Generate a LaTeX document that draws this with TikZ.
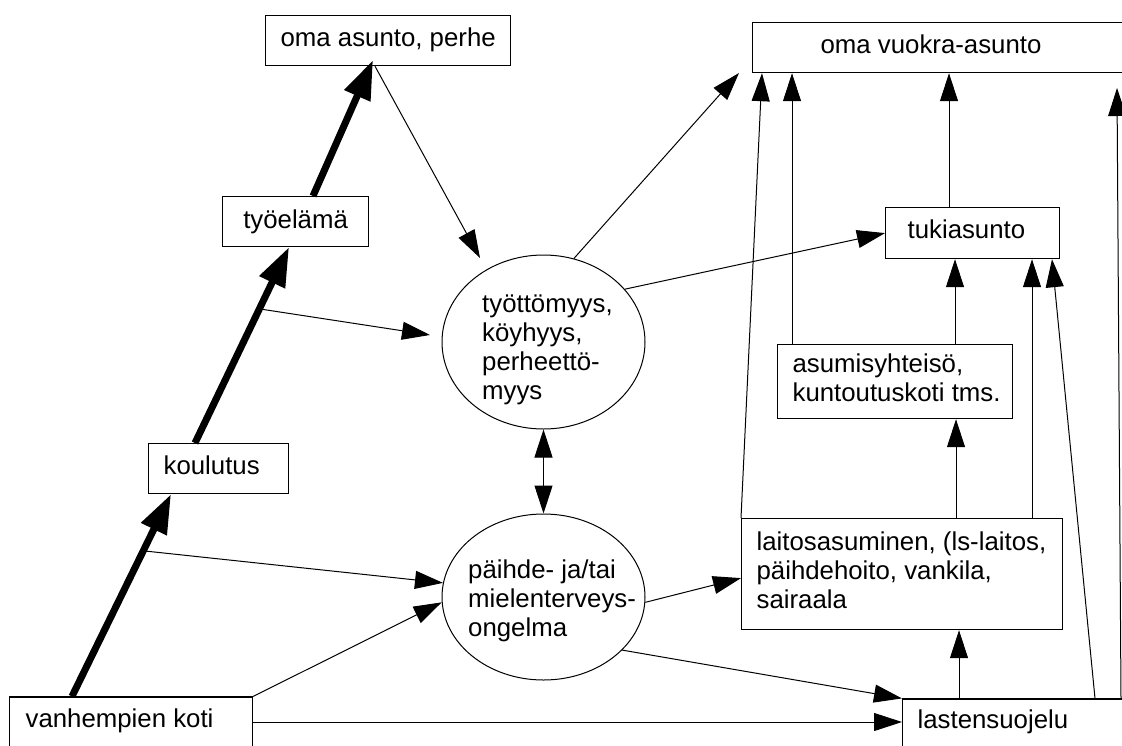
\documentclass[tikz,border=0pt]{standalone}
\usepackage{fontspec}
\setmainfont{Liberation Sans}
\usetikzlibrary{arrows.meta,calc,shapes.geometric}
\newcommand\lbox[2]{\makebox[#1pt][l]{\begin{tabular}{@{}l@{}}#2\end{tabular}}}
\tikzset{
  every node/.style={font=\fontsize{25.8}{29}\selectfont},
  box/.style={draw, line width=1.2pt, rectangle, inner ysep=0pt, anchor=north west},
  ell/.style={draw, line width=1pt, ellipse, inner sep=0pt},
  lbl/.style={inner sep=0pt, anchor=west},
  conn/.style={line width=1pt, -{Triangle[length=28pt,width=18pt]}},
  fat/.style={line width=7pt, -{Triangle[length=39pt,width=27pt]}},
  dbl/.style={line width=1pt, {Triangle[length=28pt,width=18pt]}-{Triangle[length=28pt,width=18pt]}},
}
\begin{document}
\begin{tikzpicture}[x=1pt,y=-1pt]
\useasboundingbox (0,0) rectangle (1122,745);
\clip (0,0) rectangle (1122,745);
\fill[white] (0,0) rectangle (1122,745);

% boxes
\node[box, minimum width=245pt, minimum height=50pt, inner xsep=15pt] (omaasunto) at (265,15) {\lbox{215}{oma asunto, perhe}};
\node[box, minimum width=420pt, minimum height=50pt, inner xsep=68pt] (omavuokra) at (752,22) {\lbox{284}{oma vuokra-asunto}};
\node[box, minimum width=146pt, minimum height=50pt] (tyoelama) at (222,196) {työelämä};
\node[box, minimum width=140pt, minimum height=50pt, inner xsep=15pt] (koulutus) at (148,443) {\lbox{110}{koulutus}};
\node[box, anchor=west, minimum width=243pt, minimum height=50pt, inner xsep=16pt] (vanhempien) at (9,722) {\lbox{211}{vanhempien koti}};
\node[box, minimum width=174pt, minimum height=51pt, inner xsep=22pt] (tukiasunto) at (885,207) {\lbox{130}{tukiasunto}};
\node[box, minimum width=235pt, minimum height=74pt, inner xsep=15pt] (asumis) at (777,344) {\lbox{205}{asumisyhteisö,\\kuntoutuskoti tms.}};
\node[box, minimum width=321pt, minimum height=111pt, inner xsep=15pt] (laitos) at (741,518) {\lbox{291}{laitosasuminen, (ls-laitos,\\päihdehoito, vankila,\\sairaala}};
\node[box, anchor=west, minimum width=300pt, minimum height=48pt, inner xsep=15pt] (lastensuojelu) at (902,723) {\lbox{270}{lastensuojelu}};

% ellipses
\node[ell, minimum width=203pt, minimum height=174pt] (E1) at (543.5,342) {};
\node[ell, minimum width=203pt, minimum height=166pt] (E2) at (543.5,597) {};
\node[lbl] (E1t) at (482,350) {\begin{tabular}{@{}l@{}}työttömyys,\\köyhyys,\\perheettö-\\myys\end{tabular}};
\node[lbl] (E2t) at (468,601.5) {\begin{tabular}{@{}l@{}}päihde- ja/tai\\mielenterveys-\\ongelma\end{tabular}};

% free ends
\coordinate (d1) at (480,258);
\coordinate (e1) at (430,335);
\coordinate (l1) at (739,73);
\coordinate (u1) at (1117,88);

% thick path
\draw[fat] ($(vanhempien.north west)+(63,0)$) -- coordinate[pos=0.72] (a1) ($(koulutus.south west)+(23,0)$);
\draw[fat] ($(koulutus.north west)+(47,0)$) -- coordinate[pos=0.685] (b1) ($(tyoelama.south west)+(67,0)$);
\draw[fat] ($(tyoelama.north west)+(91,0)$) -- ($(omaasunto.south west)+(108,-6)$);

% thin connectors
\draw[conn] ($(omaasunto.south west)+(110,0)$) -- (d1);
\draw[conn] (b1) -- (e1);
\draw[conn] (a1) -- (E2.172);
\draw[conn] (vanhempien.north east) -- (E2.183);
\draw[conn] (vanhempien.east) -- (vanhempien.east -| lastensuojelu.west);
\draw[conn] (E2.-34) -- (lastensuojelu.north west);
\draw[conn] (E2.-3) -- ($(laitos.west)+(0,4)$);
\draw[dbl] (E1.south) -- (E2.north);
\draw[conn] (E1.70) -- (l1);
\draw[conn] (E1.33) -- (tukiasunto.west);
\draw[conn] (laitos.north west) -- ($(omavuokra.south west)+(10,0)$);
\coordinate (o1) at ($(asumis.north west)+(15,0)$);
\draw[conn] (o1) -- (o1 |- omavuokra.south);
\coordinate (p1) at ($(tukiasunto.north west)+(64,0)$);
\draw[conn] (p1) -- (p1 |- omavuokra.south);
\coordinate (q1) at ($(asumis.north west)+(178,0)$);
\draw[conn] (q1) -- (q1 |- tukiasunto.south);
\coordinate (r1) at ($(laitos.north west)+(215,0)$);
\draw[conn] (r1) -- (r1 |- asumis.south);
\coordinate (r2) at ($(laitos.north west)+(291,0)$);
\draw[conn] (r2) -- (r2 |- tukiasunto.south);
\coordinate (s1) at ($(lastensuojelu.north west)+(57,0)$);
\draw[conn] (s1) -- (s1 |- laitos.south);
\draw[conn] ($(lastensuojelu.north west)+(193,0)$) -- ($(tukiasunto.south west)+(167,0)$);
\draw[conn] ($(lastensuojelu.north west)+(219,0)$) -- (u1);
\end{tikzpicture}
\end{document}
